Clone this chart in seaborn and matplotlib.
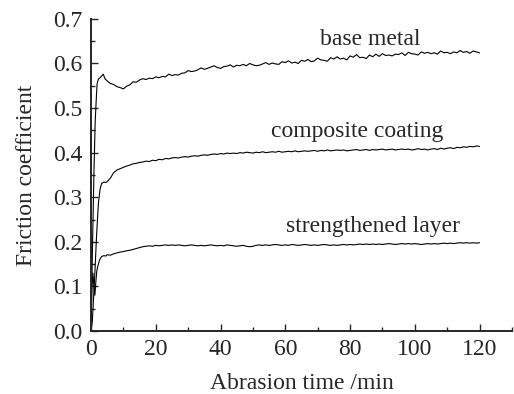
import numpy as np
import pandas as pd
import seaborn as sns
import matplotlib.pyplot as plt
from matplotlib.ticker import MultipleLocator

# 时间轴：前几分钟读数较密，之后每 1 min 一个点
t_late = list(range(5, 121))

# base metal
t_base_early = [0, 0.5, 0.9, 1.3, 1.7, 1.9, 2.3, 2.8, 3.3, 3.8, 4.3]
v_base_early = [0.0, 0.20, 0.35, 0.47, 0.53, 0.555, 0.565, 0.568, 0.572, 0.576, 0.566]
v_base_late = [
    0.561, 0.555, 0.553, 0.548, 0.546, 0.543, 0.549, 0.552, 0.559, 0.558, 0.563,
    0.566, 0.564, 0.567, 0.566, 0.570, 0.568, 0.571, 0.570, 0.576, 0.573,
    0.575, 0.574, 0.578, 0.579, 0.584, 0.582, 0.583, 0.586, 0.590, 0.587,
    0.589, 0.592, 0.595, 0.591, 0.589, 0.593, 0.594, 0.597, 0.592, 0.596,
    0.595, 0.598, 0.595, 0.600, 0.597, 0.595, 0.596, 0.599, 0.602, 0.598,
    0.601, 0.599, 0.598, 0.604, 0.602, 0.606, 0.601, 0.603, 0.600, 0.607,
    0.605, 0.609, 0.604, 0.606, 0.612, 0.608, 0.607, 0.605, 0.613, 0.610,
    0.615, 0.610, 0.612, 0.608, 0.617, 0.614, 0.620, 0.613, 0.614, 0.611,
    0.619, 0.615, 0.621, 0.616, 0.622, 0.618, 0.619, 0.617, 0.621, 0.620,
    0.624, 0.618, 0.625, 0.622, 0.621, 0.619, 0.626, 0.623, 0.625, 0.622,
    0.624, 0.621, 0.628, 0.624, 0.625, 0.622, 0.626, 0.624, 0.629, 0.625,
    0.627, 0.623, 0.628, 0.626, 0.624,
]

# composite coating
t_comp_early = [0, 0.4, 0.7, 1.2, 1.7, 2.0, 2.3, 2.8, 3.3, 4.0, 4.6]
v_comp_early = [0.0, 0.02, 0.06, 0.13, 0.21, 0.25, 0.287, 0.318, 0.331, 0.334, 0.333]
v_comp_late = [
    0.335, 0.343, 0.355, 0.361, 0.364, 0.367, 0.370, 0.372, 0.375, 0.376, 0.378,
    0.379, 0.381, 0.380, 0.383, 0.382, 0.385, 0.384, 0.387, 0.386, 0.388,
    0.389, 0.388, 0.390, 0.391, 0.390, 0.392, 0.393, 0.392, 0.394, 0.395,
    0.394, 0.396, 0.397, 0.396, 0.398, 0.397, 0.399, 0.398, 0.399, 0.398,
    0.400, 0.399, 0.401, 0.400, 0.399, 0.401, 0.400, 0.402, 0.400, 0.401,
    0.402, 0.401, 0.403, 0.401, 0.402, 0.403, 0.402, 0.404, 0.402, 0.403,
    0.404, 0.403, 0.404, 0.405, 0.403, 0.405, 0.404, 0.406, 0.404, 0.405,
    0.406, 0.405, 0.406, 0.404, 0.405, 0.406, 0.407, 0.405, 0.406, 0.407,
    0.405, 0.407, 0.406, 0.407, 0.408, 0.406, 0.407, 0.408, 0.406, 0.407,
    0.408, 0.407, 0.408, 0.406, 0.407, 0.409, 0.407, 0.408, 0.406, 0.408,
    0.409, 0.407, 0.410, 0.408, 0.410, 0.411, 0.409, 0.412, 0.411, 0.413,
    0.412, 0.414, 0.413, 0.415, 0.414,
]

# strengthened layer
t_str_early = [0, 0.3, 0.6, 0.9, 1.2, 1.5, 1.8, 2.2, 2.7, 3.3, 4.0, 4.6]
v_str_early = [0.0, 0.10, 0.13, 0.10, 0.08, 0.11, 0.135, 0.148, 0.160, 0.167, 0.169, 0.168]
v_str_late = [
    0.171, 0.170, 0.173, 0.175, 0.177, 0.178, 0.180, 0.181, 0.183, 0.185, 0.187,
    0.189, 0.190, 0.191, 0.190, 0.192, 0.191, 0.192, 0.193, 0.192, 0.193,
    0.192, 0.193, 0.192, 0.191, 0.192, 0.193, 0.192, 0.191, 0.192, 0.191,
    0.192, 0.193, 0.192, 0.191, 0.192, 0.191, 0.193, 0.192, 0.191, 0.190,
    0.191, 0.192, 0.190, 0.189, 0.190, 0.192, 0.193, 0.192, 0.193, 0.192,
    0.193, 0.194, 0.193, 0.192, 0.193, 0.192, 0.194, 0.193, 0.192, 0.193,
    0.194, 0.193, 0.192, 0.193, 0.192, 0.193, 0.194, 0.193, 0.192, 0.193,
    0.192, 0.193, 0.194, 0.193, 0.194, 0.193, 0.194, 0.195, 0.194, 0.195,
    0.194, 0.195, 0.194, 0.195, 0.194, 0.195, 0.196, 0.195, 0.194, 0.195,
    0.196, 0.195, 0.196, 0.195, 0.196, 0.195, 0.194, 0.195, 0.196, 0.195,
    0.196, 0.195, 0.196, 0.197, 0.196, 0.197, 0.196, 0.197, 0.198, 0.197,
    0.198, 0.197, 0.198, 0.197, 0.198,
]

labels = ['base metal', 'composite coating', 'strengthened layer']
label_pos = [(86.2, 0.641), (82.2, 0.435), (87.1, 0.222)]

curves = {
    'base metal': (t_base_early + t_late, v_base_early + v_base_late),
    'composite coating': (t_comp_early + t_late, v_comp_early + v_comp_late),
    'strengthened layer': (t_str_early + t_late, v_str_early + v_str_late),
}

sns.set_style('ticks')
plt.rcParams['font.family'] = ['Liberation Serif', 'DejaVu Serif']
fs = 17

fig = plt.figure(figsize=(5.14, 3.94), dpi=100)
ax = fig.add_axes([0.177, 0.160, 0.819, 0.792])

for name in labels:
    t, v = curves[name]
    df = pd.DataFrame({'t': t, 'v': v})
    sns.lineplot(data=df, x='t', y='v', ax=ax, color='black', lw=0.8,
                 estimator=None, sort=False)

for name, (x, y) in zip(labels, label_pos):
    ax.text(x, y, name, ha='center', va='baseline', fontsize=fs)

ax.set_xlim(0, 130)
ax.set_ylim(0, 0.7)
ax.xaxis.set_major_locator(MultipleLocator(20))
ax.xaxis.set_minor_locator(MultipleLocator(10))
ax.yaxis.set_major_locator(MultipleLocator(0.1))
ax.yaxis.set_minor_locator(MultipleLocator(0.05))
ax.set_xticks([0, 20, 40, 60, 80, 100, 120])
ax.yaxis.set_major_formatter(plt.FormatStrFormatter('%.1f'))

sns.despine(ax=ax)
for s in ['left', 'bottom']:
    ax.spines[s].set_linewidth(1.4)
ax.tick_params(which='major', direction='in', length=5, width=1, labelsize=fs, pad=6)
ax.tick_params(which='minor', direction='in', length=3, width=1)

ax.set_xlabel('Abrasion time /min', fontsize=fs, labelpad=9)
ax.set_ylabel('Friction coefficient', fontsize=fs, labelpad=12)

fig.savefig('out.png', dpi=100)
